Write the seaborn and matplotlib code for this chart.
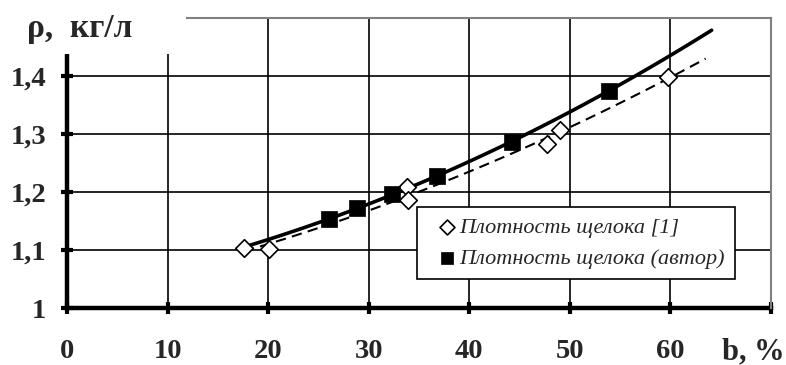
import numpy as np
import pandas as pd
import matplotlib
matplotlib.use("Agg")
import matplotlib.pyplot as plt
from matplotlib.patches import Rectangle
import seaborn as sns

# Liquor density: literature data [1] and the author's measurements
b_lit = [17.6, 20.1, 33.8, 33.9, 47.7, 49.0, 59.8]
rho_lit = [1.104, 1.101, 1.208, 1.186, 1.283, 1.307, 1.398]
b_auth = [26.1, 28.8, 32.3, 36.8, 44.2, 53.9]
rho_auth = [1.153, 1.172, 1.196, 1.228, 1.286, 1.375]

x_ticks = [0, 10, 20, 30, 40, 50, 60]
y_ticks = [1.0, 1.1, 1.2, 1.3, 1.4]
y_tick_labels = ["1", "1,1", "1,2", "1,3", "1,4"]

label_lit = "Плотность щелока [1]"
label_auth = "Плотность щелока (автор)"

sns.set_theme(style="white")
plt.rcParams["font.family"] = ["Liberation Serif", "DejaVu Serif"]

W, H = 786, 365
fig = plt.figure(figsize=(W / 100, H / 100), dpi=100)
ax = fig.add_axes([67 / W, 1 - 308 / H, (771 - 67) / W, (308 - 18) / H])

# second-order trend lines, extended beyond the measured range
auth_fit = np.polyfit(b_auth, rho_auth, 2)
lit_fit = np.polyfit(b_lit, rho_lit, 2)
xs_auth = np.linspace(17.5, 64.1, 120)
xs_lit = np.linspace(17.6, 63.5, 120)
trend_auth = pd.DataFrame({"b": xs_auth, "rho": np.polyval(auth_fit, xs_auth)})
trend_lit = pd.DataFrame({"b": xs_lit, "rho": np.polyval(lit_fit, xs_lit)})

sns.lineplot(data=trend_auth, x="b", y="rho", ax=ax, color="black", lw=2.6,
             legend=False, zorder=3)
sns.lineplot(data=trend_lit, x="b", y="rho", ax=ax, color="black", lw=1.5,
             legend=False, zorder=3)
ax.lines[-1].set_dashes([5, 3])

sns.scatterplot(x=b_lit, y=rho_lit, ax=ax, marker="D", s=80, facecolor="white",
                edgecolor="black", linewidth=1.2, label=label_lit, zorder=4)
sns.scatterplot(x=b_auth, y=rho_auth, ax=ax, marker="s", s=120, color="black",
                edgecolor="black", linewidth=0.5, label=label_auth, zorder=5)

ax.set_xlim(0, 70)
ax.set_ylim(1.0, 1.5)
ax.set_xticks(x_ticks)
ax.set_yticks(y_ticks)
ax.set_yticklabels(y_tick_labels)
ax.set_xlabel("")
ax.set_ylabel("")

for xv in x_ticks[1:]:
    ax.axvline(xv, color="black", lw=1.2, zorder=1)
for yv in y_ticks[1:]:
    ax.axhline(yv, color="black", lw=1.2, zorder=1)

for side in ("left", "bottom"):
    ax.spines[side].set_color("black")
    ax.spines[side].set_linewidth(3.2)
    ax.spines[side].set_zorder(2)
for side in ("top", "right"):
    ax.spines[side].set_color("#808080")
    ax.spines[side].set_linewidth(1.5)

ax.tick_params(axis="both", direction="inout", length=9, width=3, color="black",
               labelsize=20.5)
ax.tick_params(axis="x", pad=18, bottom=True)
ax.tick_params(axis="y", pad=10.5, left=True)
# tick at the right end of the x axis
ax.set_xticks([70], minor=True)
ax.tick_params(axis="x", which="minor", direction="inout", length=9, width=3,
               color="black", bottom=True)
for lab in ax.get_xticklabels() + ax.get_yticklabels():
    lab.set_fontweight("bold")

ax.annotate("b, %", xy=(65.1, 0), xycoords=("data", "axes fraction"),
            xytext=(0, -31.7), textcoords="offset points", ha="left", va="center",
            fontsize=22, fontweight="bold", annotation_clip=False)

leg = ax.legend(loc="upper left", bbox_to_anchor=((417 - 67) / 704, (308 - 207) / 290),
                borderaxespad=0, frameon=True, fancybox=False, edgecolor="black",
                framealpha=1, prop={"style": "italic", "size": 16}, handlelength=1.8,
                handletextpad=-0.35, borderpad=0.45, labelspacing=0.5,
                markerscale=0.85)
leg.get_frame().set_linewidth(1.2)
leg.set_zorder(10)

# axis title over a white patch in the upper-left corner
fig.patches.append(Rectangle((0, 1 - 54 / H), 186 / W, 54 / H, transform=fig.transFigure,
                             facecolor="white", edgecolor="none", zorder=5))
fig.text(27 / W, 1 - 28 / H, "ρ,  кг/л", ha="left", va="center", fontsize=24,
         fontweight="bold", zorder=6)

fig.savefig("out.png", dpi=100, facecolor="white")
